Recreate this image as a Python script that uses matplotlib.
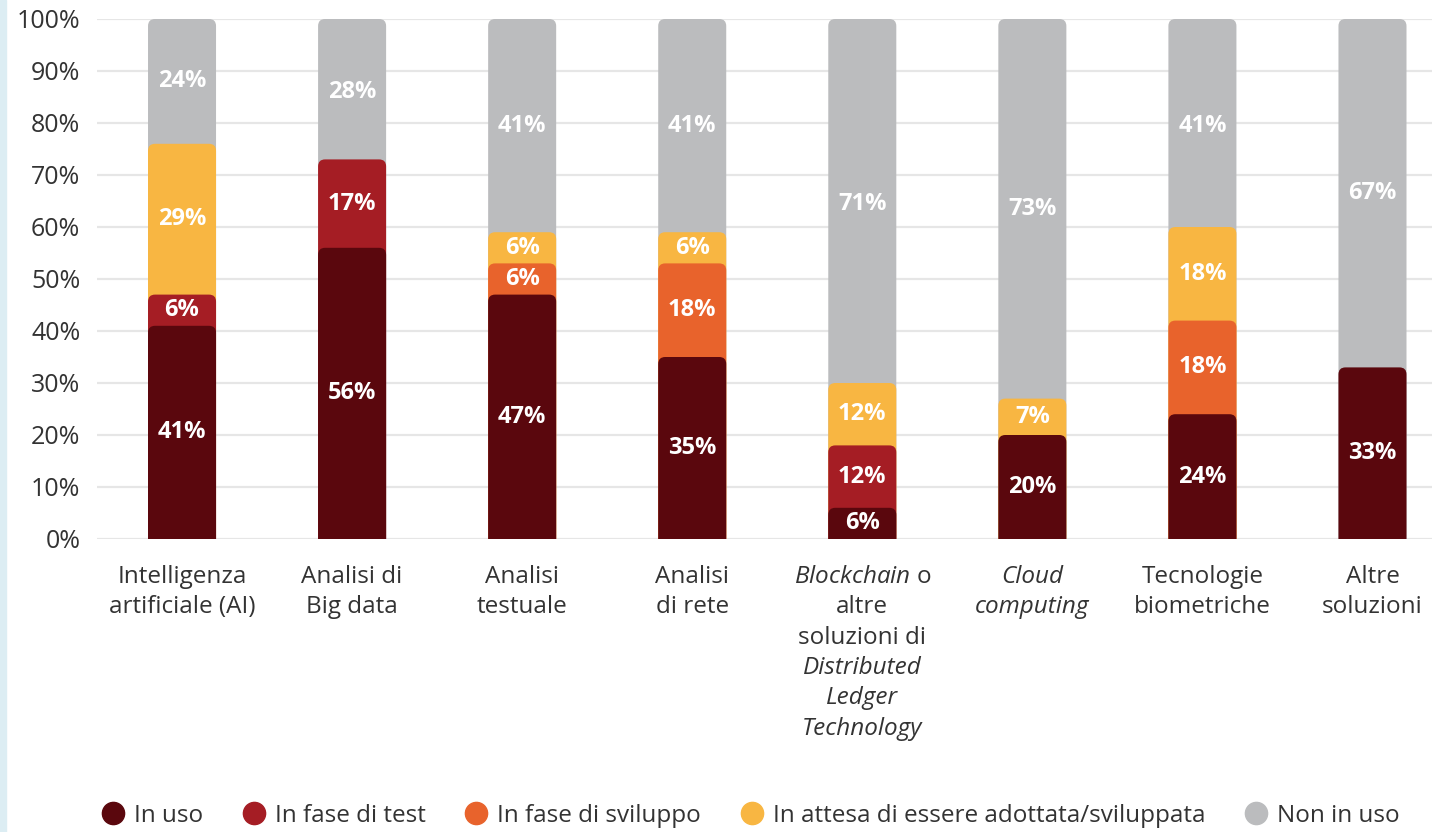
import numpy as np
import matplotlib
matplotlib.use("Agg")
import matplotlib.pyplot as plt
from matplotlib.patches import FancyBboxPatch, Rectangle
from matplotlib.lines import Line2D

plt.rcParams['font.family'] = ['Open Sans', 'DejaVu Sans']
plt.rcParams['mathtext.fontset'] = 'custom'
plt.rcParams['mathtext.rm'] = 'Open Sans'
plt.rcParams['mathtext.it'] = 'Open Sans:italic'

# category labels, one list of (line, style) each
categories = [
    [("Intelligenza", "normal"), ("artificiale (AI)", "normal")],
    [("Analisi di", "normal"), ("Big data", "normal")],
    [("Analisi", "normal"), ("testuale", "normal")],
    [("Analisi", "normal"), ("di rete", "normal")],
    [(r"$\mathit{Blockchain}$ o", "normal"), ("altre", "normal"), ("soluzioni di", "normal"),
     ("Distributed", "italic"), ("Ledger", "italic"), ("Technology", "italic")],
    [("Cloud", "italic"), ("computing", "italic")],
    [("Tecnologie", "normal"), ("biometriche", "normal")],
    [("Altre", "normal"), ("soluzioni", "normal")],
]

series_names = ["In uso", "In fase di test", "In fase di sviluppo",
                "In attesa di essere adottata/sviluppata", "Non in uso"]
in_uso = [41, 56, 47, 35, 6, 20, 24, 33]
in_test = [6, 17, 0, 0, 12, 0, 0, 0]
in_sviluppo = [0, 0, 6, 18, 0, 0, 18, 0]
in_attesa = [29, 0, 6, 6, 12, 7, 18, 0]
non_in_uso = [24, 28, 41, 41, 71, 73, 41, 67]

colors = ["#5a070d", "#a51d24", "#e8632c", "#f8b642", "#bbbcbe"]
values = np.array([in_uso, in_test, in_sviluppo, in_attesa, non_in_uso], dtype=float)

fig = plt.figure(figsize=(14.32, 8.32), dpi=100)
fig.patches.append(Rectangle((0, 0), 6 / 1432, 1, transform=fig.transFigure,
                             color="#dcedf3", zorder=0))
ax = fig.add_axes([97 / 1432, 1 - 539 / 832, 1 - 97 / 1432, 520 / 832])

x = np.arange(len(categories))
width = 0.4
ax.set_xlim(-0.5, 7.35)
ax.set_ylim(0, 100)

# pixel scale, used to keep the corner rounding circular
px_x = ax.transData.transform((1, 0))[0] - ax.transData.transform((0, 0))[0]
px_y = ax.transData.transform((0, 1))[1] - ax.transData.transform((0, 0))[1]
radius_px = 7
aspect = px_x / px_y

tops = np.minimum(np.cumsum(values, axis=0), 100)
bottoms = tops - values

# each segment is drawn from below the axis up to its top, tallest first,
# so every segment gets rounded top corners over the one beneath
for s in range(len(series_names) - 1, -1, -1):
    for i in x:
        if values[s, i] <= 0:
            continue
        box = FancyBboxPatch((i - width / 2, -3), width, tops[s, i] + 3,
                             boxstyle=f"round,pad=0,rounding_size={radius_px / px_x}",
                             mutation_aspect=aspect, facecolor=colors[s],
                             edgecolor="none", zorder=2 + (len(series_names) - s))
        ax.add_patch(box)
        ax.text(i, (bottoms[s, i] + tops[s, i]) / 2, f"{int(values[s, i])}%",
                ha="center", va="center", color="white", fontsize=17,
                fontweight="bold", zorder=20)

ax.set_yticks(np.arange(0, 101, 10))
ax.set_yticklabels([f"{v}%" for v in range(0, 101, 10)])
ax.tick_params(axis="y", length=0, pad=12, labelsize=18, labelcolor="#333333")
ax.set_xticks([])
ax.yaxis.grid(True, color="#e6e6e6", linewidth=1.6)
ax.set_axisbelow(True)
for sp in ax.spines.values():
    sp.set_visible(False)

for i, lines in enumerate(categories):
    for j, (txt, style) in enumerate(lines):
        ax.annotate(txt, xy=(i, 0), xycoords=("data", "axes fraction"),
                    xytext=(0, -27.5 - j * 21.8), textcoords="offset points",
                    ha="center", va="center", fontsize=17.5, fontstyle=style,
                    color="#333333")

handles = [Line2D([], [], marker="o", linestyle="none", markersize=16,
                  markerfacecolor=c, markeredgecolor=c) for c in colors]
fig.legend(handles, series_names, loc="center", bbox_to_anchor=(0.523, 16 / 832),
           ncol=5, frameon=False, fontsize=17.5, columnspacing=1.5,
           handletextpad=0.25, handlelength=1.2, labelcolor="#333333")

fig.savefig("out.png", dpi=100)
plt.close()
